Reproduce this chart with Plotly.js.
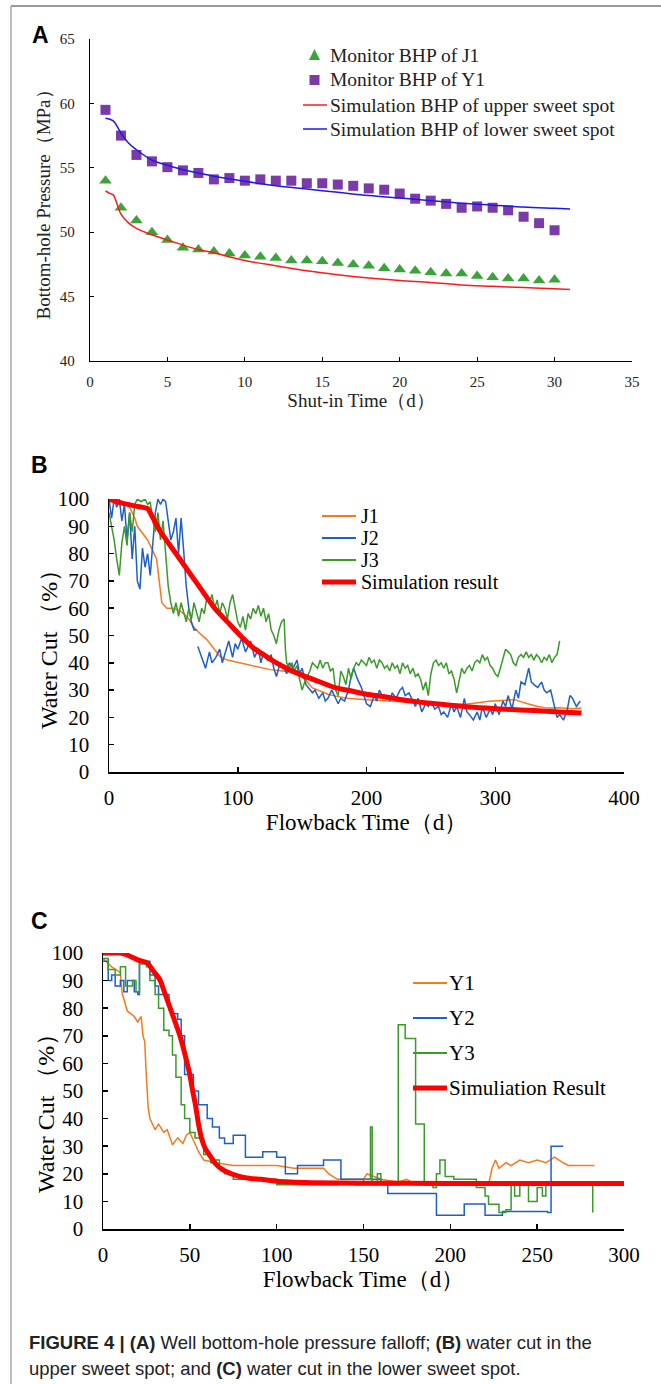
<!DOCTYPE html>
<html>
<head>
<meta charset="utf-8">
<script src="https://cdn.plot.ly/plotly-3.0.1.min.js"></script>
<style>html,body{margin:0;padding:0;background:#fff;}#chart{width:661px;height:1384px;}</style>
</head>
<body>
<div id="chart"></div>
<script>
// ---------- Panel A data ----------
const shutInDays = [1,2,3,4,5,6,7,8,9,10,11,12,13,14,15,16,17,18,19,20,21,22,23,24,25,26,27,28,29,30];
const bhpJ1 = [54.0,51.9,50.9,50.0,49.4,48.8,48.65,48.5,48.35,48.2,48.1,48.0,47.8,47.8,47.75,47.6,47.5,47.4,47.2,47.1,47.0,46.9,46.8,46.8,46.6,46.5,46.4,46.4,46.25,46.3];
const bhpY1 = [59.5,57.5,56.0,55.5,55.05,54.8,54.6,54.1,54.2,54.0,54.1,54.0,54.0,53.8,53.8,53.7,53.6,53.4,53.3,53.0,52.6,52.45,52.2,51.9,52.0,51.9,51.7,51.2,50.7,50.15];
const simUpperX = [1,1.3,1.5,2,2.5,3,4,5,6,7,8,10,12,14,16,18,20,22,24,26,28,30,31];
const simUpperY = [53.2,53.0,52.9,51.4,50.7,50.3,49.8,49.4,49.0,48.65,48.4,47.8,47.4,47.0,46.7,46.45,46.25,46.1,45.9,45.8,45.7,45.6,45.55];
const simLowerX = [1,1.5,2,2.5,3,4,5,6,7,8,10,12,14,16,18,20,22,24,26,28,30,31];
const simLowerY = [58.85,58.65,57.7,56.9,56.4,55.6,55.2,54.85,54.6,54.35,53.95,53.6,53.35,53.1,52.85,52.65,52.45,52.25,52.1,51.95,51.85,51.8];
const legendA = ["Monitor BHP of J1", "Monitor BHP of Y1", "Simulation BHP of upper sweet spot", "Simulation BHP of lower sweet spot"];

// ---------- Panel B data ----------
const bJ1X = [0,5,10,15,18,20,22,25,28,30,33,35,37,39,41,43,45,50,55,58,62,66,70,76,80,86,92,99,110,125,135,145,152,158,165,170,177,185,200,215,230,243,260,275,285,295,305,315,325,333,341,350,360,367];
const bJ1Y = [100,99,99,98,95,93,90,88,86,85,82,80,78,70,62,61,60,60,59,58,56,53,51,48.5,46,42.4,41,40.2,39,37.5,37,36.3,34,30.8,29.5,28.5,27.7,27,26.5,26,25.5,25.3,25,24.7,25.3,25.9,26.2,26.5,25,24,23.4,23.5,23.2,23.4];
const bJ2X = [0,2,4,6,8,10,12,14,16,18,20,22,24,26,28,30,32,34,36,38,40,42,44,46,48,50,52,54,56,58,60,62,64,66,68,null,
  69,72,75,78,80,83,86,88,90,93,96,98,100,103,106,108,110,113,116,118,120,123,126,128,130,133,136,138,140,143,146,148,150,153,156,158,160,163,166,168,170,173,176,178,180,183,186,188,190,193,196,198,200,203,206,208,210,213,216,218,220,223,226,228,230,233,236,238,240,243,246,248,250,253,256,258,260,263,266,268,270,273,276,278,280,283,286,288,290,293,296,298,300,303,306,308,310,313,316,318,320,323,326,328,330,333,336,338,340,343,346,348,350,353,356,358,360,363,366];
const bJ2Y = [100,93,100,97,100,92,98,85,95,78,90,70,67,82,75,80,72,85,95,100,98,100,99,92,85,88,93,80,93,81,68,60,55,52,52,null,
  46,42,38,44,40,42,45,40,43,48,42,47,45,49,44,46,48,42,45,40,44,41,43,38,35,40,38,36,40,38,41,36,38,32,30,29,30,27,29,26,27,30,27,25,27,26,30,35,38,34,31,28,25,24,28,26,30,27,28,26,29,27,30,31,28,29,26,24,27,22,25,24,26,23,24,21,22,20,25,22,24,20,27,22,21,19,22,19,24,20,23,21,25,21,26,24,28,23,30,27,33,32,38,33,32,31,33,30,29,30,24,20,21,19,23,28,27,24,26];
const bJ3X = [0,2,4,6,8,10,12,14,16,18,20,22,25,28,30,32,34,36,38,40,42,44,46,48,50,52,54,56,58,60,62,64,66,68,70,72,74,76,78,80,82,84,86,88,90,92,94,96,98,100,102,104,106,108,110,112,114,116,118,120,122,124,126,128,130,132,134,136,137,138,140,142,144,146,148,150,152,154,156,158,160,162,164,166,168,170,172,174,176,178,180,182,184,186,188,190,192,194,196,198,200,202,204,206,208,210,212,214,216,218,220,222,224,226,228,230,232,234,236,238,240,242,244,246,248,250,252,254,256,258,260,262,264,266,268,270,272,274,276,278,280,282,284,286,288,290,292,294,296,298,300,302,304,306,308,310,312,314,316,318,320,322,324,326,328,330,332,334,336,338,340,342,344,346,348,350];
const bJ3Y = [95,90,85,78,72,84,90,83,95,88,98,100,99,100,98,99,92,88,95,85,92,80,68,62,58,62,57,62,58,55,60,56,62,58,55,60,58,64,62,65,60,63,58,62,60,56,62,65,60,55,53,57,52,58,56,60,58,61,57,60,55,58,52,50,47,52,55,56,45,40,38,40,37,39,34,30,33,35,37,40,39,38,41,38,40,40,37,38,30,28,37,35,32,38,34,38,40,39,41,40,39,42,40,41,38,41,40,38,39,37,40,38,39,36,40,38,39,36,38,35,36,34,30,33,28,36,40,41,39,40,38,40,36,37,34,29,33,38,36,38,39,37,40,41,40,43,41,42,39,38,36,35,38,42,45,44,43,40,39,42,43,42,44,42,43,41,43,42,40,42,41,43,40,42,43,48];
const bSimX = [0,10,20,30,32,40,46,55,64,73,82,92,102,112,120,128,140,150,161,175,190,200,215,230,243,260,280,300,308,330,350,367];
const bSimY = [100,98.5,97.5,96.5,95,88,84,78,72,66,60,55,50,45.5,43,40.5,37.5,35.5,33.5,31,29.5,28.5,27.5,26.3,25.5,24.7,23.8,23.2,23,22.5,22,21.6];
const legendB = ["J1", "J2", "J3", "Simulation result"];

// ---------- Panel C data ----------
const cY1X = [0,5,10,11,14,18,20,22,23,24,25,26,27,30,32,35,37,40,43,46,48,50,55,58,65,75,100,110,127,130,135,140,150,152,160,170,175,180,200,220,222,224,226,228,232,235,240,245,250,255,260,265,268,270,283];
const cY1Y = [98,95,93,85.5,79,77,75,77,70,68,55,44,40,36,38,35,36,30.5,33,31,34,35,28,25,24,23,23,22,22,20,18,18,18,20,18,17,18,16,16,17,16,22,25,22,24,23,25,24,25,24,26,24,23,23,23];
const cY2X = [0,3,5,7,10,12,14,18,20,21,25,27,30,32,38,40,43,45,47,52,55,60,63,67,70,75,80,82,90,92,98,100,105,110,112,125,127,135,137,150,160,164,192,208,220,230,256,258,265];
const cY2Y = [97,90,92,88,90,86,90,86,85,97,97,92,88,85,79.5,78,76,70,56,50,45,40,37,33,31,34,34,26,26,28,28,26,20,20,23,23,25,25,18,18,17,12.9,5,9.1,5,6.3,6,30,30];
const cY3X = [0,3,7,10,13,17,19,21,25,27,30,32,35,38,40,42,45,47,50,53,58,62,65,67,70,75,90,100,125,135,145,150,154,155,158,160,168,170,174,178,180,184,185,190,192,194,197,202,210,215,220,222,228,232,235,237,240,245,250,253,255,278,282];
const cY3Y = [98,94,92,95,88,90,86,96,95,90,85,80,72,70,63,55,45,40,35,33,27,24,25,22,20,18,18,16,16,17,16,18,37,16,20,16,16,74,69,69,38,38,16,15,20,25,19,18,18,15,12,9,6,7,17,12,16,10,15,12,17,17,6];
const cSimX = [0,5,10,15,20,25.5,29,32.8,35,37.6,41,45,47.5,49.8,51.5,53.4,55,57,59,62,65,69,74,79,85,91,100,120,150,200,250,300];
const cSimY = [100,100,100,99,97.5,96.4,93.5,90.3,86.5,81.9,76,68.6,62.5,56.5,50.5,44.4,38,32.3,29,26.2,23.5,21.4,20,19,18.3,18,17.3,16.8,16.6,16.5,16.5,16.5];
const legendC = ["Y1", "Y2", "Y3", "Simuliation Result"];

// ---------- text ----------
const captionLine1 = "<b>FIGURE 4 | (A)</b> Well bottom-hole pressure falloff; <b>(B)</b> water cut in the";
const captionLine2 = "upper sweet spot; and <b>(C)</b> water cut in the lower sweet spot.";

const W = 661, H = 1384;
const px = v => v / W;
const py = v => 1 - v / H;
const SERIF = "Liberation Serif, Times New Roman, serif";
const SANS = "Liberation Sans, Arial, sans-serif";
const NARROW = "Liberation Sans Narrow, Arial Narrow, Liberation Sans, sans-serif";
const ORANGE = "#f47a20", BLUE = "#1f5fc8", GREEN = "#3a9a2a", RED = "#ff0000";
const A_GREEN = "#3aa43a", A_PURPLE = "#7a3aa8", A_RED = "#ff1a1a", A_BLUE = "#1a1aee";

const traces = [
  {x: shutInDays, y: bhpJ1, type: "scatter", mode: "markers", name: legendA[0],
   marker: {symbol: "triangle-up", size: 11, color: A_GREEN}, xaxis: "x", yaxis: "y"},
  {x: shutInDays, y: bhpY1, type: "scatter", mode: "markers", name: legendA[1],
   marker: {symbol: "square", size: 10, color: A_PURPLE}, xaxis: "x", yaxis: "y"},
  {x: simUpperX, y: simUpperY, type: "scatter", mode: "lines", name: legendA[2],
   line: {color: A_RED, width: 1.5, shape: "spline"}, xaxis: "x", yaxis: "y"},
  {x: simLowerX, y: simLowerY, type: "scatter", mode: "lines", name: legendA[3],
   line: {color: A_BLUE, width: 1.5, shape: "spline"}, xaxis: "x", yaxis: "y"},

  {x: bJ1X, y: bJ1Y, type: "scatter", mode: "lines", name: legendB[0], line: {color: ORANGE, width: 1.5}, xaxis: "x2", yaxis: "y2"},
  {x: bJ2X, y: bJ2Y, type: "scatter", mode: "lines", name: legendB[1], line: {color: BLUE, width: 1.5}, xaxis: "x2", yaxis: "y2", connectgaps: false},
  {x: bJ3X, y: bJ3Y, type: "scatter", mode: "lines", name: legendB[2], line: {color: GREEN, width: 1.5}, xaxis: "x2", yaxis: "y2"},
  {x: bSimX, y: bSimY, type: "scatter", mode: "lines", name: legendB[3], line: {color: RED, width: 5, shape: "spline", smoothing: 0.6}, xaxis: "x2", yaxis: "y2"},

  {x: cY1X, y: cY1Y, type: "scatter", mode: "lines", name: legendC[0], line: {color: ORANGE, width: 1.5}, xaxis: "x3", yaxis: "y3"},
  {x: cY2X, y: cY2Y, type: "scatter", mode: "lines", name: legendC[1], line: {color: BLUE, width: 1.5, shape: "hv"}, xaxis: "x3", yaxis: "y3"},
  {x: cY3X, y: cY3Y, type: "scatter", mode: "lines", name: legendC[2], line: {color: GREEN, width: 1.5, shape: "hv"}, xaxis: "x3", yaxis: "y3"},
  {x: cSimX, y: cSimY, type: "scatter", mode: "lines", name: legendC[3], line: {color: RED, width: 5, shape: "spline", smoothing: 0.6}, xaxis: "x3", yaxis: "y3"}
];

function axis(opts) {
  return Object.assign({
    showline: true, linecolor: "#000", linewidth: 1.5, mirror: false,
    ticks: "inside", ticklen: 5, tickwidth: 1.5, tickcolor: "#000",
    showgrid: false, zeroline: false, fixedrange: true,
    tickfont: {family: SERIF, size: 21, color: "#000"}
  }, opts);
}
function pLine(x0, x1, y, color, width) {
  return {type: "line", xref: "paper", yref: "paper", x0: px(x0), x1: px(x1), y0: py(y), y1: py(y), line: {color: color, width: width}};
}
function pText(text, x, y, size, color, family) {
  return {text: text, x: px(x), y: py(y), xref: "paper", yref: "paper", xanchor: "left", yanchor: "middle",
          showarrow: false, font: {family: family || SERIF, size: size, color: color || "#000"}};
}
function pPath(points, color) {
  const d = points.map((p, i) => (i ? "L" : "M") + px(p[0]).toFixed(5) + "," + py(p[1]).toFixed(5)).join(" ") + " Z";
  return {type: "path", xref: "paper", yref: "paper", path: d, fillcolor: color, line: {width: 0}};
}
function vTitle(text, x, y) {
  return {text: text, x: px(x), y: py(y), xref: "paper", yref: "paper", xanchor: "center", yanchor: "middle",
          textangle: -90, showarrow: false, font: {family: SERIF, size: 24, color: "#000"}};
}

const annotations = [
  pText("<b>A</b>", 30, 35, 23, "#000", SANS),
  pText("<b>B</b>", 29, 465, 23, "#000", SANS),
  pText("<b>C</b>", 29, 921, 23, "#000", SANS),
  vTitle("Water Cut （%）", 49, 644),
  vTitle("Water Cut （%）", 46, 1108),
  pText(captionLine1, 27, 1342, 18.5, "#222", NARROW),
  pText(captionLine2, 27, 1368, 18.5, "#222", NARROW)
];
const legendAY = [55, 80, 105, 129];
const legendBY = [516, 538, 560, 582];
const legendCY = [983, 1018, 1053, 1088];
legendA.forEach((t, i) => annotations.push(pText(t, 328, legendAY[i], 19.5, "#222")));
legendB.forEach((t, i) => annotations.push(pText(t, 359, legendBY[i], 20, "#000")));
legendC.forEach((t, i) => annotations.push(pText(t, 447, legendCY[i], 21, "#000")));

const shapes = [
  {type: "line", xref: "paper", yref: "paper", x0: px(11), x1: px(11), y0: py(6), y1: 0, line: {color: "#bdbdbd", width: 2}},
  {type: "line", xref: "paper", yref: "paper", x0: px(11), x1: 1, y0: py(6), y1: py(6), line: {color: "#9a9a9a", width: 2}},
  pPath([[309, legendAY[0] + 5], [320, legendAY[0] + 5], [314.5, legendAY[0] - 6]], A_GREEN),
  pPath([[309.5, legendAY[1] - 5], [319.5, legendAY[1] - 5], [319.5, legendAY[1] + 5], [309.5, legendAY[1] + 5]], A_PURPLE),
  pLine(303, 327, legendAY[2], A_RED, 1.5),
  pLine(303, 327, legendAY[3], A_BLUE, 1.5),
  pLine(322, 356, legendBY[0], ORANGE, 2),
  pLine(322, 356, legendBY[1], BLUE, 2),
  pLine(322, 356, legendBY[2], GREEN, 2),
  pLine(322, 356, legendBY[3], RED, 5),
  pLine(413, 447, legendCY[0], ORANGE, 2),
  pLine(413, 447, legendCY[1], BLUE, 2),
  pLine(413, 447, legendCY[2], GREEN, 2),
  pLine(413, 447, legendCY[3], RED, 5)
];

const layout = {
  width: W, height: H,
  margin: {l: 0, r: 0, t: 0, b: 0},
  paper_bgcolor: "#fff", plot_bgcolor: "#fff",
  showlegend: false,
  hovermode: false,
  xaxis: axis({domain: [px(90), px(632)], range: [0, 35], dtick: 5, tick0: 0, anchor: "y", linewidth: 1.2, tickwidth: 1.2, ticklen: 4,
    tickfont: {family: SERIF, size: 15, color: "#222"}, ticklabelstandoff: 7,
    title: {text: "Shut-in Time（d）", font: {family: SERIF, size: 19, color: "#222"}, standoff: 0}}),
  yaxis: axis({domain: [py(361), py(39)], range: [40, 65], dtick: 5, tick0: 40, anchor: "x", linewidth: 1.2, tickwidth: 1.2, ticklen: 4,
    tickfont: {family: SERIF, size: 15, color: "#222"}, ticklabelstandoff: 11,
    title: {text: "Bottom-hole Pressure（MPa）", font: {family: SERIF, size: 19, color: "#222"}, standoff: 4}}),

  xaxis2: axis({domain: [px(109), px(624)], range: [0, 400], dtick: 100, tick0: 0, anchor: "y2", ticklabelstandoff: 6,
    title: {text: "Flowback Time（d）", font: {family: SERIF, size: 23, color: "#000"}, standoff: 0}}),
  yaxis2: axis({domain: [py(772), py(499)], range: [0, 100], dtick: 10, tick0: 0, anchor: "x2", ticklabelstandoff: 14}),

  xaxis3: axis({domain: [px(103), px(624)], range: [0, 300], dtick: 50, tick0: 0, anchor: "y3", ticklabelstandoff: 6,
    title: {text: "Flowback Time（d）", font: {family: SERIF, size: 23, color: "#000"}, standoff: 0}}),
  yaxis3: axis({domain: [py(1229), py(953)], range: [0, 100], dtick: 10, tick0: 0, anchor: "x3", ticklabelstandoff: 14}),

  shapes: shapes,
  annotations: annotations
};

Plotly.newPlot("chart", traces, layout, {displayModeBar: false, staticPlot: true});
</script>
</body>
</html>
